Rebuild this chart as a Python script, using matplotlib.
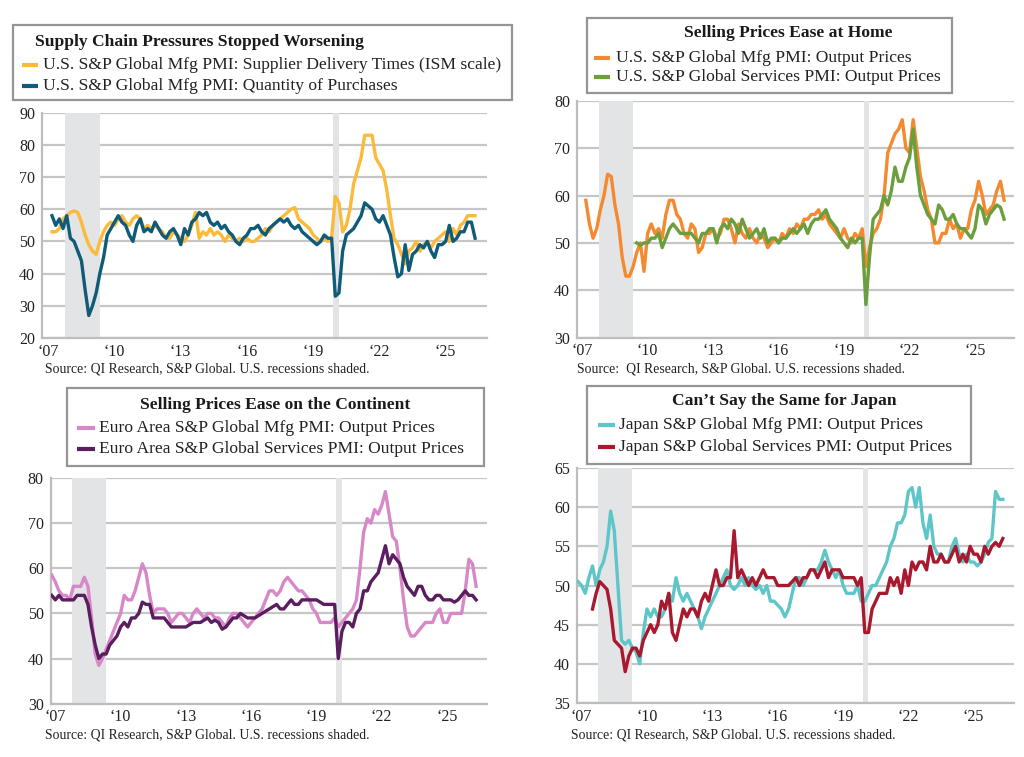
import numpy as np
import matplotlib
matplotlib.use("Agg")
import matplotlib.pyplot as plt
from matplotlib.lines import Line2D
from matplotlib.patches import Rectangle

nan = np.nan
FIRST_YEAR = 2007

# ---- data: one row per year, bi-monthly readings (Jan, Mar, May, Jul, Sep, Nov) ----
us_delivery = [
    [nan, nan, 53, 53, 54, 57], [58, 59, 59.5, 59, 56, 52], [49, 47, 46, 50, 53, 55],
    [56, 55, 57, 58, 56, 55], [57, 58, 57, 54, 55, 54], [55, 54, 53, 51, 51, 53],
    [52, 51, 50, 52, 55, 59], [51, 53, 52, 54, 52, 53], [52, 50, 52, 51, 50, 51],
    [50, 51, 50, 50, 51, 52], [54, 53, 55, 56, 57, 58], [59, 60, 60.5, 57, 56, 55],
    [54, 52, 51, 50, 51, 50], [51, 64, 62, 53, 55, 60], [68, 72, 76, 83, 83, 83],
    [76, 74, 72, 66, 58, 51], [49, 46, 43, 47, 48, 50], [47, 49, 50, 48, 50, 51],
    [52, 53, 50, 54, 52, 55], [56, 58, 58, 58],
]
us_purchases = [
    [nan, nan, 58, 55, 57, 54], [58, 51, 50, 47, 44, 35], [27, 30, 34, 40, 45, 52],
    [54, 56, 58, 56, 55, 52], [50, 55, 57, 53, 54, 53], [56, 54, 52, 51, 53, 54],
    [52, 49, 54, 52, 56, 57], [59, 58, 59, 56, 55, 56], [54, 55, 53, 52, 50, 49],
    [51, 52, 54, 54, 55, 53], [52, 54, 55, 56, 57, 56], [57, 55, 54, 55, 53, 52],
    [51, 50, 49, 50, 52, 51], [51, 33, 34, 47, 52, 53], [54, 56, 58, 62, 61, 60],
    [57, 56, 58, 55, 52, 45], [39, 40, 49, 41, 46, 47], [49, 48, 50, 47, 45, 49],
    [49, 50, 55, 50, 51, 53], [53, 56, 56, 51],
]
us_mfg_prices = [
    [nan, nan, 59, 54, 51, 53], [57, 60, 64.5, 64, 58, 54], [47, 43, 43, 45, 48, 50],
    [44, 52, 54, 52, 53, 51], [56, 59, 59, 56, 55, 52], [51, 54, 53, 48, 49, 52],
    [52, 53, 51, 52, 55, 55], [53, 50, 54, 52, 51, 53], [51, 50, 52, 51, 49, 50],
    [51, 50, 52, 51, 53, 52], [54, 53, 55, 55, 56, 56], [57, 55, 56, 54, 53, 52],
    [51, 53, 51, 50, 52, 51], [53, 45, 49, 52, 53, 55], [60, 69, 71, 73, 74, 76],
    [70, 69, 76, 70, 64, 61], [57, 55, 50, 50, 52, 52], [55, 53, 54, 51, 53, 53],
    [57, 59, 63, 60, 56, 57], [58, 61, 63, 59],
]
us_svc_prices = [
    [nan] * 6, [nan] * 6, [nan, nan, nan, nan, 50, 49.5],
    [50, 50, 51, 51, 52, 49], [51, 53, 54, 53, 52, 52], [52, 52, 51, 50, 52, 52],
    [53, 53, 50, 53, 54, 53], [55, 54, 52, 55, 53, 51], [52, 53, 51, 53, 50, 51],
    [51, 50, 51, 51, 52, 53], [52, 53, 54, 52, 54, 55], [55, 56, 57, 55, 54, 53],
    [51, 50, 49, 51, 50, 51], [51, 37, 47, 55, 56, 57], [60, 58, 61, 66, 63, 63],
    [66, 68, 74, 66, 60, 58], [56, 55, 54, 58, 57, 55], [55, 56, 54, 53, 53, 52],
    [51, 53, 58, 57, 54, 56], [57, 58, 57.5, 55],
]
ea_mfg_prices = [
    [58.5, 57, 55, 54, 54, 53], [56, 56, 56, 58, 56, 49], [41, 38.5, 40, 42, 44, 46],
    [48, 50, 54, 53, 53, 55], [58, 61, 59, 54, 50, 51], [51, 51, 50, 48, 49, 50],
    [50, 49, 48, 50, 51, 50], [49, 50, 50, 49, 49, 48], [47, 49, 50, 50, 49, 48],
    [47, 48, 49, 50, 51, 53], [55, 55, 54, 55, 57, 58], [57, 56, 55, 55, 54, 53],
    [51, 50, 48, 48, 48, 48], [49, 47, 48, 49, 50, 51], [53, 60, 68, 71, 70, 73],
    [72, 74, 77, 72, 67, 66], [60, 53, 47, 45, 45, 46], [47, 48, 48, 48, 50, 51],
    [48, 48, 50, 50, 50, 50], [55, 62, 61, 56],
]
ea_svc_prices = [
    [54, 53, 54, 53, 53, 53], [53, 54, 54, 54, 52, 47], [43, 40, 41, 41, 43, 44],
    [45, 47, 48, 47, 49, 49], [50, 52.5, 52, 52, 49, 49], [49, 49, 48, 47, 47, 47],
    [47, 47, 47.5, 48, 48, 48], [48.5, 49, 48, 48.5, 48, 46.5], [47, 48, 49, 49, 50, 49.5],
    [49, 49, 49, 49.5, 50, 50.5], [51, 51.5, 52, 51, 51, 52], [53, 52, 52, 53, 53, 53],
    [53, 53, 52.5, 52, 52, 52], [52, 40, 46, 48, 48, 47], [50, 51, 55, 55, 57, 58],
    [59, 62, 65, 61, 63, 62], [61, 58, 56, 55, 54, 56], [56, 54, 53, 53, 54, 54],
    [53, 53, 53, 52.5, 53, 54], [55, 54, 54, 53],
]
jp_mfg_prices = [
    [50.5, 50, 49, 51, 52.5, 50], [52, 53, 55, 59.5, 57, 50], [43, 42.5, 43, 42, 41.5, 40],
    [44, 47, 46, 47, 46, 46], [47, 49, 48, 51, 49, 48], [49, 48, 47, 46, 44.5, 46],
    [47, 48, 49, 50, 51, 52], [50, 49.5, 50, 51, 50, 51], [50, 49.5, 50, 49, 50, 48],
    [48, 47.5, 47, 46, 47, 49], [51, 51, 50, 51, 52, 52], [52, 53, 54.5, 53, 52, 51],
    [52, 50, 49, 49, 49, 50], [48, 48, 49, 50, 50, 51], [52, 53, 55, 56, 58, 58],
    [59, 62, 62.5, 60, 62.5, 58], [56, 59, 55, 54, 54, 53], [53, 55, 56, 54, 53, 54],
    [53, 53, 52.5, 53, 54, 55.5], [56, 62, 61, 61],
]
jp_svc_prices = [
    [nan, nan, nan, nan, 47, 49], [50.5, 50, 49.5, 47, 43, 42.5], [42, 39, 41, 42, 42, 41],
    [43, 44, 45, 44, 45, 48], [47, 49, 44, 43, 45, 47], [46, 47, 47, 46, 48, 49],
    [48, 50, 52, 50, 50, 51], [51, 57, 51, 52, 51, 50], [51, 50, 51, 52, 51, 51],
    [51, 50, 50, 50, 50, 50.5], [51, 50, 51, 51, 52, 52], [51, 52, 53, 51, 52, 52],
    [52, 51, 51, 51, 51, 50], [51, 44, 44, 47, 48, 49], [49, 49, 51, 50, 51, 49],
    [52, 50, 53, 52, 53, 53], [52, 55, 53, 53, 54, 53], [53, 54, 55, 53, 54, 53],
    [55, 54, 54, 53, 55, 54], [55, 55.5, 55, 56],
]

recessions = [(2007.92, 2009.5), (2020.08, 2020.33)]
tick_years = [2007, 2010, 2013, 2016, 2019, 2022, 2025]
tick_labels = ["\u201807", "\u201810", "\u201813", "\u201816", "\u201819", "\u201822", "\u201825"]

titles = ["Supply Chain Pressures Stopped Worsening", "Selling Prices Ease at Home",
          "Selling Prices Ease on the Continent", "Can\u2019t Say the Same for Japan"]
labels = [
    ["U.S. S&P Global Mfg PMI: Supplier Delivery Times (ISM scale)",
     "U.S. S&P Global Mfg PMI: Quantity of Purchases"],
    ["U.S. S&P Global Mfg PMI: Output Prices",
     "U.S. S&P Global Services PMI: Output Prices"],
    ["Euro Area S&P Global Mfg PMI: Output Prices",
     "Euro Area S&P Global Services PMI: Output Prices"],
    ["Japan S&P Global Mfg PMI: Output Prices",
     "Japan S&P Global Services PMI: Output Prices"],
]
sources = ["Source: QI Research, S&P Global. U.S. recessions shaded.",
           "Source:  QI Research, S&P Global. U.S. recessions shaded.",
           "Source: QI Research, S&P Global. U.S. recessions shaded.",
           "Source: QI Research, S&P Global. U.S. recessions shaded."]

series = [(us_delivery, us_purchases), (us_mfg_prices, us_svc_prices),
          (ea_mfg_prices, ea_svc_prices), (jp_mfg_prices, jp_svc_prices)]
colors = [("#FBBA3A", "#0F5B78"), ("#F5892F", "#6B9E3C"),
          ("#D788C8", "#5A1E5E"), ("#5EC6C9", "#A8192E")]
yranges = [(20, 90, 10), (30, 80, 10), (30, 80, 10), (35, 65, 5)]

# ---- layout (pixels) ----
W, H = 1024, 757
FONT = ["Liberation Serif", "DejaVu Serif"]
plt.rcParams["font.family"] = FONT

# axes: left, right, top, bottom (px), xlim
ax_px = [(42, 487, 112.7, 338, 2006.88, 2027.04),
         (577, 1013.7, 100.7, 337.7, 2006.93, 2026.94),
         (50.7, 487, 478, 703.7, 2006.955, 2027.0),
         (577, 1013.7, 468, 703, 2006.955, 2027.0)]
# legend box: x0, x1, y0, y1, title_x, title_align, title_y, line1_y, line2_y, sample_x0, sample_x1, text_x
leg_px = [(13, 512, 25, 100, 35, "left", 42, 65, 86, 22, 38, 43),
          (587, 952, 18, 93, 788, "center", 33, 58, 77, 594, 610, 616),
          (67, 484, 388, 466, 275.5, "center", 405, 428, 449, 77, 95, 99),
          (587, 971, 386, 464, 784, "center", 401, 425, 447, 598, 615, 619)]
src_px = [(45, 369), (577, 369), (45, 735), (571, 735)]

fig = plt.figure(figsize=(W / 100, H / 100), dpi=100)
fig.patch.set_facecolor("white")


def fx(p):
    return p / W


def fy(p):
    return 1 - p / H


def expand(rows):
    xs, ys = [], []
    for i, row in enumerate(rows):
        for j, v in enumerate(row):
            xs.append(FIRST_YEAR + i + j / 6.0)
            ys.append(v)
    return np.array(xs), np.array(ys, dtype=float)


for k in range(4):
    l, r, t, b, x0, x1 = ax_px[k]
    ax = fig.add_axes([fx(l), fy(b), (r - l) / W, (b - t) / H])
    ymin, ymax, ystep = yranges[k]
    ax.set_xlim(x0, x1)
    ax.set_ylim(ymin, ymax)
    ax.set_yticks(np.arange(ymin, ymax + 0.1, ystep))
    ax.set_yticklabels([f"{int(v)}" for v in np.arange(ymin, ymax + 0.1, ystep)])
    ax.set_xticks([y + 0.16 for y in tick_years])
    ax.set_xticklabels(tick_labels)
    ax.tick_params(length=0, labelsize=11.5, colors="#222222")
    ax.tick_params(axis="y", pad=5)
    ax.tick_params(axis="x", pad=4)
    ax.yaxis.grid(True, color="#C6C6C6", lw=1.6, zorder=0)
    ax.set_axisbelow(True)
    for s in ["top", "right"]:
        ax.spines[s].set_visible(False)
    for s in ["left", "bottom"]:
        ax.spines[s].set_color("#BDBDBD")
        ax.spines[s].set_linewidth(1.6)
    for (a, bb) in recessions:
        ax.axvspan(a, bb, color="#E3E4E6", lw=0, zorder=1)
    s1, s2 = series[k]
    c1, c2 = colors[k]
    xa, ya = expand(s1)
    xb, yb = expand(s2)
    ax.plot(xa, ya, color=c1, lw=2.4, zorder=3, solid_joinstyle="round")
    ax.plot(xb, yb, color=c2, lw=2.4, zorder=4, solid_joinstyle="round")

    # legend box
    bx0, bx1, by0, by1, tx, tal, ty, l1y, l2y, sx0, sx1, txx = leg_px[k]
    fig.patches.append(Rectangle((fx(bx0), fy(by1)), (bx1 - bx0) / W, (by1 - by0) / H,
                                 transform=fig.transFigure, facecolor="white",
                                 edgecolor="#959595", lw=1.6, zorder=5))
    fig.text(fx(tx), fy(ty), titles[k], ha=tal, va="center",
             fontsize=12.6, fontweight="bold", color="#1a1a1a", zorder=6)
    for ly, lab, col in [(l1y, labels[k][0], c1), (l2y, labels[k][1], c2)]:
        fig.lines.append(Line2D([fx(sx0), fx(sx1)], [fy(ly), fy(ly)], transform=fig.transFigure,
                                color=col, lw=3, zorder=6, solid_capstyle="butt"))
        fig.text(fx(txx), fy(ly), lab, ha="left", va="center", fontsize=12.6,
                 color="#222222", zorder=6)
    sx, sy = src_px[k]
    fig.text(fx(sx), fy(sy), sources[k], ha="left", va="center", fontsize=9.9, color="#222222")

fig.savefig("out.png", dpi=100, facecolor="white")
